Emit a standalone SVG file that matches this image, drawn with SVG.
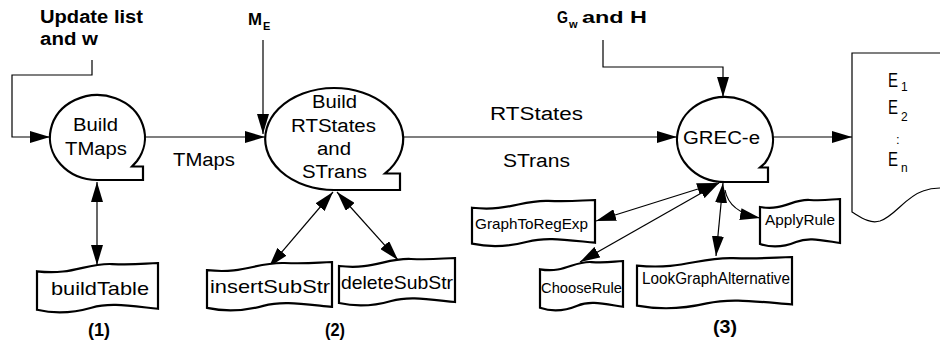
<svg xmlns="http://www.w3.org/2000/svg" xmlns:xlink="http://www.w3.org/1999/xlink" width="940" height="345" viewBox="0 0 940 345">
  <style>
    text { font-family: "Liberation Sans", Arial, sans-serif; fill: #000; }
    .b { font-weight: bold; }
    .node { fill: #fff; stroke: #000; stroke-width: 2.2; stroke-linejoin: miter; }
    .tape { fill: #fff; stroke: #000; stroke-width: 2.2; vector-effect: non-scaling-stroke; }
    .doc { fill: #fff; stroke: #000; stroke-width: 1.2; }
    .wire { fill: none; stroke: #000; stroke-width: 1.2; }
    .two { marker-start: url(#head); marker-end: url(#head); }
    .one { marker-end: url(#head); }
  </style>
  <defs>
    <marker id="head" markerUnits="userSpaceOnUse" viewBox="0 0 20 12" markerWidth="20" markerHeight="12" refX="20" refY="6" orient="auto-start-reverse">
      <path d="M0,0 L20,6 L0,12 Z" fill="#000"/>
    </marker>
    <!-- punched-tape outline in a 100-wide unit box -->
    <path id="tapeShape" class="tape" d="M0,8 C30,12 40,0 62,1 S90,0 100,0 L100,44 C75,41 60,38 45,43 S15,49 0,45 Z"/>
  </defs>

  <rect width="940" height="345" fill="#fff"/>

  <!-- input labels -->
  <g id="inputs">
    <text class="b" x="40" y="23" font-size="18" textLength="103" lengthAdjust="spacingAndGlyphs">Update list</text>
    <text class="b" x="40" y="45" font-size="18" textLength="58" lengthAdjust="spacingAndGlyphs">and w</text>
    <text class="b" x="248" y="25" font-size="17" textLength="14" lengthAdjust="spacingAndGlyphs">M</text>
    <text class="b" x="263" y="30" font-size="11">E</text>
    <text class="b" x="557" y="23" font-size="16" textLength="11" lengthAdjust="spacingAndGlyphs">G</text>
    <text class="b" x="569" y="28" font-size="11">w</text>
    <text class="b" x="582" y="23" font-size="17" textLength="65" lengthAdjust="spacingAndGlyphs">and H</text>
  </g>

  <!-- connectors -->
  <g id="connectors">
    <path class="wire one" d="M92,60 V75 H12 V137 H50"/>
    <path class="wire one" d="M145,137 H265"/>
    <path class="wire one" d="M263,40 V134"/>
    <path class="wire one" d="M403,137 H677"/>
    <path class="wire one" d="M603,40 V67 H723 V97"/>
    <path class="wire one" d="M773,137 H852"/>
    <path class="wire two" d="M97,182 V265"/>
    <path class="wire two" d="M333,192 L269,267"/>
    <path class="wire two" d="M337,192 L398,260"/>
    <path class="wire two" d="M717,183 L596,221"/>
    <path class="wire two" d="M719,183 L580,262"/>
    <path class="wire two" d="M723,183 L716,256"/>
    <path class="wire one" d="M725,190 Q729,212 760,218"/>
  </g>

  <g id="edge-labels">
    <text x="173" y="166" font-size="18" textLength="62" lengthAdjust="spacingAndGlyphs">TMaps</text>
    <text x="490" y="120" font-size="18" textLength="93" lengthAdjust="spacingAndGlyphs">RTStates</text>
    <text x="503" y="167" font-size="18" textLength="67" lengthAdjust="spacingAndGlyphs">STrans</text>
  </g>

  <!-- process nodes -->
  <g id="build-tmaps">
    <path class="node" d="M97.5,180 A47.5,42.5 0 1 1 137,161 L132,166.5 H143 V180 Z"/>
    <text x="73" y="131" font-size="18" textLength="45" lengthAdjust="spacingAndGlyphs">Build</text>
    <text x="65" y="155" font-size="18" textLength="62" lengthAdjust="spacingAndGlyphs">TMaps</text>
  </g>

  <g id="build-rtstates">
    <path class="node" d="M334,190 A69,51 0 1 1 390,169 L385,173.5 H400 V190 Z"/>
    <text x="312" y="108" font-size="18" textLength="45" lengthAdjust="spacingAndGlyphs">Build</text>
    <text x="291" y="132" font-size="18" textLength="85" lengthAdjust="spacingAndGlyphs">RTStates</text>
    <text x="317" y="155" font-size="18" textLength="34" lengthAdjust="spacingAndGlyphs">and</text>
    <text x="302" y="178" font-size="18" textLength="65" lengthAdjust="spacingAndGlyphs">STrans</text>
  </g>

  <g id="grec-e">
    <path class="node" d="M725,182 A48,42.5 0 1 1 765,163 L760,167.5 H768 V182 Z"/>
    <text x="683" y="144" font-size="18" textLength="77" lengthAdjust="spacingAndGlyphs">GREC-e</text>
  </g>

  <!-- output document -->
  <g id="output">
    <path class="doc" d="M941,53 H852 V212 C862,218 870,224 880,221 C895,216 905,197 923,191 C931,188 936,188 941,188"/>
    <text x="888" y="87" font-size="20" textLength="10" lengthAdjust="spacingAndGlyphs">E</text>
    <text x="901" y="91" font-size="12">1</text>
    <text x="888" y="114" font-size="20" textLength="10" lengthAdjust="spacingAndGlyphs">E</text>
    <text x="901" y="121" font-size="12">2</text>
    <text x="896" y="144" font-size="13">:</text>
    <text x="888" y="166" font-size="20" textLength="10" lengthAdjust="spacingAndGlyphs">E</text>
    <text x="901" y="172" font-size="12">n</text>
  </g>

  <!-- routine nodes -->
  <g id="buildTable">
    <use xlink:href="#tapeShape" transform="translate(37,263) scale(1.21,1.04)"/>
    <text x="51" y="295" font-size="19" textLength="98" lengthAdjust="spacingAndGlyphs">buildTable</text>
  </g>
  <g id="insertSubStr">
    <use xlink:href="#tapeShape" transform="translate(207,262) scale(1.25,1.02)"/>
    <text x="210" y="293" font-size="19" textLength="120" lengthAdjust="spacingAndGlyphs">insertSubStr</text>
  </g>
  <g id="deleteSubStr">
    <use xlink:href="#tapeShape" transform="translate(339,258) scale(1.16,1.0)"/>
    <text x="341" y="289" font-size="19" textLength="112" lengthAdjust="spacingAndGlyphs">deleteSubStr</text>
  </g>
  <g id="GraphToRegExp">
    <use xlink:href="#tapeShape" transform="translate(472,200) scale(1.23,0.97)"/>
    <text x="475" y="229" font-size="15" textLength="113" lengthAdjust="spacingAndGlyphs">GraphToRegExp</text>
  </g>
  <g id="ChooseRule">
    <use xlink:href="#tapeShape" transform="translate(540,261) scale(0.83,1.04)"/>
    <text x="541" y="293" font-size="15" textLength="81" lengthAdjust="spacingAndGlyphs">ChooseRule</text>
  </g>
  <g id="LookGraphAlternative">
    <use xlink:href="#tapeShape" transform="translate(637,257) scale(1.55,1.08)"/>
    <text x="642" y="284" font-size="16" textLength="148" lengthAdjust="spacingAndGlyphs">LookGraphAlternative</text>
  </g>
  <g id="ApplyRule">
    <use xlink:href="#tapeShape" transform="translate(760,199) scale(0.8,1.0)"/>
    <text x="765" y="225" font-size="15" textLength="70" lengthAdjust="spacingAndGlyphs">ApplyRule</text>
  </g>

  <!-- stage labels -->
  <g id="stages">
    <text class="b" x="88" y="336" font-size="18" textLength="22" lengthAdjust="spacingAndGlyphs">(1)</text>
    <text class="b" x="325" y="336" font-size="18" textLength="20" lengthAdjust="spacingAndGlyphs">(2)</text>
    <text class="b" x="713" y="333" font-size="18" textLength="24" lengthAdjust="spacingAndGlyphs">(3)</text>
  </g>
</svg>
